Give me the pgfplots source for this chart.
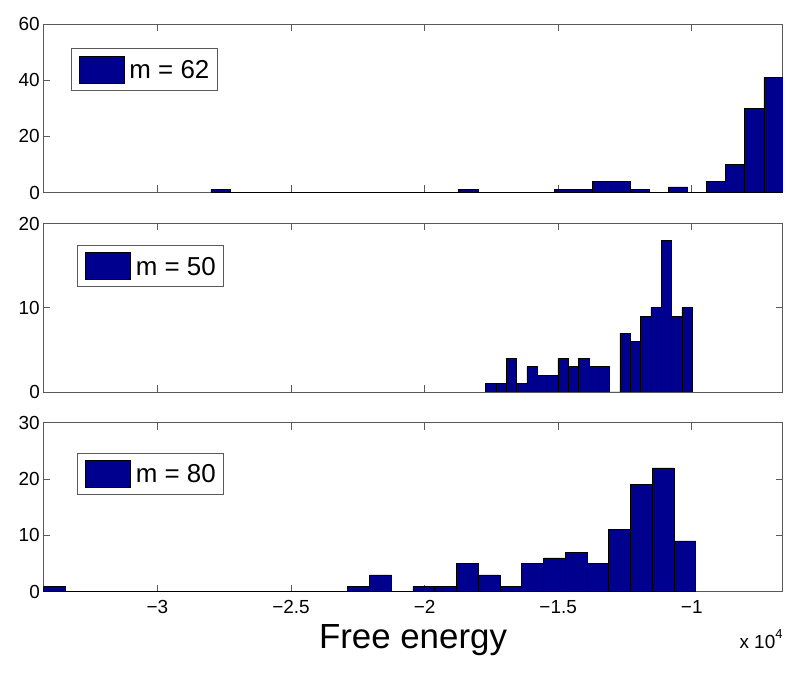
\documentclass[border=0pt]{standalone}
\usepackage{pgfplots}
\pgfplotsset{compat=1.18}
\usepackage{fontspec}
\setmainfont{Liberation Sans}
\definecolor{matblue}{RGB}{0,0,143}
\definecolor{axgray}{RGB}{90,90,90}
\pgfplotsset{
  histpanel/.style={
    scale only axis, width=739.5bp, height=168.5bp,
    xmin=-3.427, xmax=-0.6592, ymin=0,
    axis line style={draw=axgray, line width=0.8bp},
    every tick/.style={draw=axgray, line width=0.8bp},
    tick align=inside, major tick length=7bp,
    xtick={-3,-2.5,-2,-1.5,-1},
    xtick pos=both, ytick pos=both,
    xticklabels={},
    ticklabel style={font=\fontsize{19}{19}\selectfont},
    xticklabel style={yshift=-5bp},
    legend cell align=left,
    legend style={anchor=north west, draw=axgray, line width=0.8bp,
      font=\fontsize{26}{26}\selectfont, inner xsep=8bp, inner ysep=7bp,
      nodes={inner sep=0pt, text depth=0pt}, column sep=5bp},
  },
  histbar/.style={ybar interval, fill=matblue, draw=black, line width=0.5bp,
    legend image code/.code={\draw[fill=matblue,draw=black,line width=0.5bp] (0bp,-13.5bp) rectangle (45bp,13.5bp);}},
}
\begin{document}
\begin{tikzpicture}
\path[use as bounding box] (0,0) rectangle (800bp,673bp);
% m = 62
\begin{axis}[histpanel, at={(43.3bp,480.5bp)}, anchor=south west,
  ymax=60, ytick={0,20,40,60}, yticklabels={0,20,40,60},
  legend style={at={(0.0369,0.8558)}}]
\addplot[histbar] coordinates {
(-2.7996,1) (-2.7283,0) (-2.6569,0) (-2.5856,0) (-2.5142,0) (-2.4429,0)
(-2.3715,0) (-2.3002,0) (-2.2288,0) (-2.1575,0) (-2.0861,0) (-2.0148,0)
(-1.9434,0) (-1.8721,1) (-1.8007,0) (-1.7294,0) (-1.6580,0) (-1.5867,0)
(-1.5154,1) (-1.4440,1) (-1.3727,4) (-1.3013,4) (-1.2300,1) (-1.1586,0)
(-1.0873,2) (-1.0159,0) (-0.9446,4) (-0.8732,10) (-0.8019,30) (-0.7305,41)
(-0.6592,41)};
\addlegendentry{m = 62}
\end{axis}
% m = 50
\begin{axis}[histpanel, at={(43.3bp,281bp)}, anchor=south west,
  ymax=20, ytick={0,10,20}, yticklabels={0,10,20},
  legend style={at={(0.0454,0.8724)}}]
\addplot[histbar] coordinates {
(-1.7715,1) (-1.7328,1) (-1.6942,4) (-1.6555,1) (-1.6169,3) (-1.5782,2)
(-1.5396,2) (-1.5009,4) (-1.4623,3) (-1.4236,4) (-1.3850,3) (-1.3463,3)
(-1.3077,0) (-1.2690,7) (-1.2304,6) (-1.1917,9) (-1.1531,10) (-1.1144,18)
(-1.0758,9) (-1.0371,10) (-0.9985,10)};
\addlegendentry{m = 50}
\end{axis}
% m = 80
\begin{axis}[histpanel, at={(43.3bp,81.3bp)}, anchor=south west, height=169bp,
  ymax=30, ytick={0,10,20,30}, yticklabels={0,10,20,30},
  xticklabels={−3,−2.5,−2,−1.5,−1},
  legend style={at={(0.0454,0.8225)}}]
\addplot[histbar] coordinates {
(-3.4270,1) (-3.3456,0) (-3.2643,0) (-3.1829,0) (-3.1015,0) (-3.0202,0)
(-2.9388,0) (-2.8574,0) (-2.7760,0) (-2.6947,0) (-2.6133,0) (-2.5319,0)
(-2.4506,0) (-2.3692,0) (-2.2878,1) (-2.2065,3) (-2.1251,0) (-2.0437,1)
(-1.9623,1) (-1.8810,5) (-1.7996,3) (-1.7182,1) (-1.6369,5) (-1.5555,6)
(-1.4741,7) (-1.3928,5) (-1.3114,11) (-1.2300,19) (-1.1486,22) (-1.0673,9)
(-0.9859,9)};
\addlegendentry{m = 80}
\end{axis}
\node[anchor=base, font=\fontsize{35}{35}\selectfont] at (413bp,25bp) {Free energy};
\node[anchor=base east, font=\fontsize{19}{19}\selectfont, inner sep=0pt] at (782.7bp,24.7bp) {x 10{\fontsize{13}{13}\selectfont\raisebox{10bp}{4}}};
\end{tikzpicture}
\end{document}
